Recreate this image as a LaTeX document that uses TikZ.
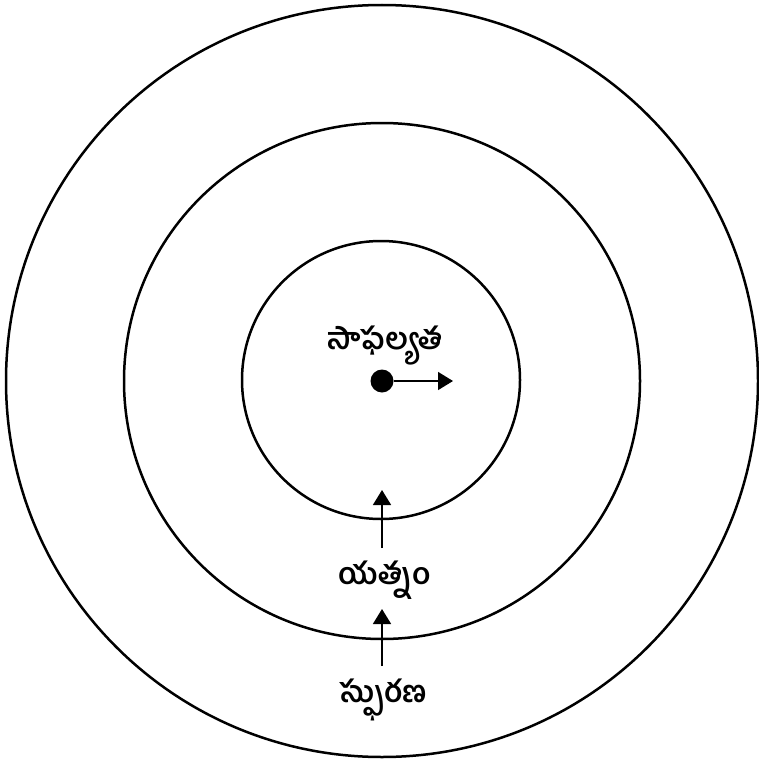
\documentclass[tikz,border=0pt]{standalone}
\usepackage{fontspec}
\newfontfamily\telugu[Script=Telugu]{Hind Guntur}
\usetikzlibrary{arrows.meta}
\begin{document}
\begin{tikzpicture}[x=1pt,y=-1pt,
  ring/.style={draw=black,line width=2.5pt},
  lbl/.style={font=\telugu\bfseries\fontsize{30}{36}\selectfont,inner sep=0pt},
  arr/.style={line width=1.5pt,-{Triangle[width=18pt,length=15pt]}}]
\useasboundingbox (0,0) rectangle (759,760);
\node[ring,circle,minimum size=752pt,inner sep=0pt] (outer) at (382,381) {};
\node[ring,circle,minimum size=516pt,inner sep=0pt] (middle) at (382,381) {};
\node[ring,circle,minimum size=278pt,inner sep=0pt] (inner) at (381,380) {};
\node[lbl] (t1) at (385,346) {సాఫల్యత};
\node[lbl] (t2) at (385,580) {యత్నం};
\node[lbl] (t3) at (383,700) {స్ఫురణ};
\node[fill=black,circle,minimum size=23pt,inner sep=0pt] (dot) at (382,381) {};
\coordinate (dotend) at (453,381);
\draw[arr] (dot.east) -- (dotend);
\coordinate (a1s) at (382,548);
\coordinate (a1e) at (382,490);
\draw[arr] (a1s) -- (a1e);
\coordinate (a2s) at (382,666);
\coordinate (a2e) at (382,609);
\draw[arr] (a2s) -- (a2e);
\end{tikzpicture}
\end{document}
